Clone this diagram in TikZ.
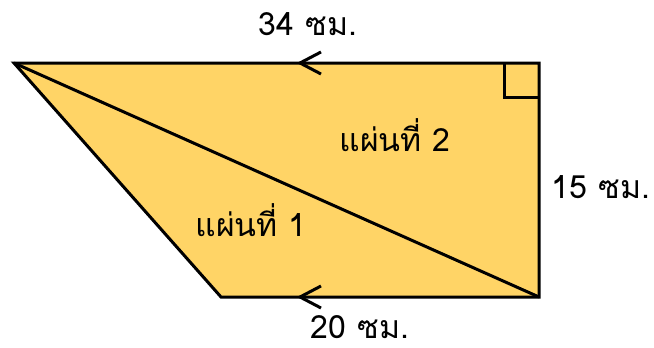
\documentclass[tikz,border=0pt]{standalone}
\usepackage{fontspec}
\newfontfamily\thaifont[Script=Thai]{Loma}
\definecolor{shapefill}{HTML}{FFD466}
\tikzset{
  edge/.style={line width=3pt, line join=miter},
  chev/.style={line width=3pt},
  lbl/.style={font=\thaifont\fontsize{32}{36}\selectfont, inner sep=0pt, anchor=base, text depth=0pt}
}
\begin{document}
\begin{tikzpicture}[x=1pt,y=-1pt]
\useasboundingbox (0,0) rectangle (654,348);
\coordinate (A) at (14,63);
\coordinate (B) at (539,63);
\coordinate (C) at (539,297);
\coordinate (D) at (221,297);
\fill[shapefill] (A) -- (B) -- (C) -- (D) -- cycle;
\draw[edge] (A) -- (B) -- (C) -- (D) -- cycle;
\draw[edge] (A) -- (C);
\draw[line width=3pt] (504,63) -- (504,97) -- (539,97);
\coordinate (t1) at (321,52);
\coordinate (t2) at (300,63);
\coordinate (t3) at (321,74);
\draw[chev] (t1) -- (t2) -- (t3);
\coordinate (b1) at (321,286);
\coordinate (b2) at (300,297);
\coordinate (b3) at (321,308);
\draw[chev] (b1) -- (b2) -- (b3);
\node[lbl] (top) at (308,35) {34 ซม.};
\node[lbl] (right) at (601,198) {15 ซม.};
\node[lbl] (bottom) at (360,338) {20 ซม.};
\node[lbl] (p2) at (395,151) {แผ่นที่ 2};
\node[lbl] (p1) at (251,236) {แผ่นที่ 1};
\end{tikzpicture}
\end{document}
